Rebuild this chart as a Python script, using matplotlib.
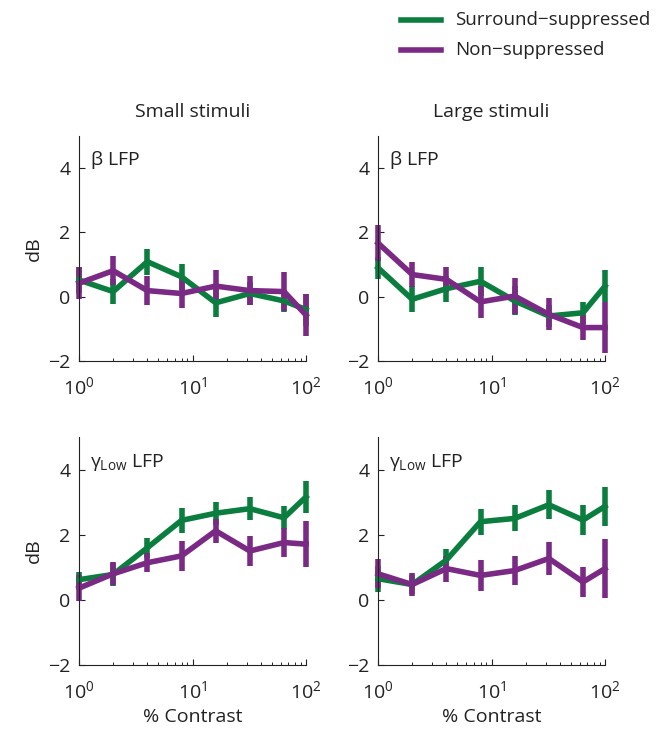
import numpy as np
import matplotlib
matplotlib.use('Agg')
import matplotlib.pyplot as plt
from matplotlib.lines import Line2D

plt.rcParams['font.family'] = ['Open Sans', 'DejaVu Sans']
plt.rcParams['mathtext.fontset'] = 'custom'
plt.rcParams['mathtext.rm'] = 'Open Sans'
plt.rcParams['mathtext.it'] = 'Open Sans'

# contrast levels (%)
contrast = [1, 2, 4, 8, 16, 32, 64, 100]

# beta LFP, small stimuli
beta_small_ss = [0.52, 0.16, 1.09, 0.62, -0.19, 0.10, -0.13, -0.40]
beta_small_ss_err = [0.40, 0.40, 0.40, 0.40, 0.45, 0.35, 0.35, 0.50]
beta_small_ns = [0.42, 0.81, 0.19, 0.10, 0.33, 0.19, 0.16, -0.57]
beta_small_ns_err = [0.50, 0.45, 0.45, 0.45, 0.50, 0.45, 0.60, 0.65]

# beta LFP, large stimuli
beta_large_ss = [0.90, -0.08, 0.25, 0.48, -0.13, -0.60, -0.50, 0.33]
beta_large_ss_err = [0.35, 0.40, 0.40, 0.45, 0.45, 0.35, 0.35, 0.50]
beta_large_ns = [1.67, 0.69, 0.54, -0.16, 0.02, -0.55, -0.96, -0.96]
beta_large_ns_err = [0.55, 0.40, 0.40, 0.50, 0.55, 0.50, 0.40, 0.80]

# low gamma LFP, small stimuli
gam_small_ss = [0.62, 0.78, 1.60, 2.44, 2.66, 2.80, 2.52, 3.16]
gam_small_ss_err = [0.25, 0.35, 0.30, 0.38, 0.35, 0.35, 0.35, 0.50]
gam_small_ns = [0.36, 0.80, 1.14, 1.35, 2.12, 1.50, 1.76, 1.71]
gam_small_ns_err = [0.40, 0.35, 0.30, 0.45, 0.37, 0.45, 0.45, 0.70]

# low gamma LFP, large stimuli
gam_large_ss = [0.65, 0.47, 1.22, 2.40, 2.50, 2.92, 2.45, 2.87]
gam_large_ss_err = [0.40, 0.30, 0.35, 0.40, 0.40, 0.45, 0.45, 0.60]
gam_large_ns = [0.80, 0.47, 0.96, 0.75, 0.90, 1.27, 0.55, 0.96]
gam_large_ns_err = [0.45, 0.35, 0.40, 0.48, 0.45, 0.50, 0.45, 0.90]

series_names = ['Surround\u2212suppressed', 'Non\u2212suppressed']

green = '#0b7e3f'
purple = '#7a2a84'
txt = '#222222'
lw = 4.0

W, H = 659, 742
fig = plt.figure(figsize=(W / 100, H / 100), dpi=100)

def px_axes(x0, y0, x1, y1):
    return fig.add_axes([x0 / W, 1 - y1 / H, (x1 - x0) / W, (y1 - y0) / H])

panels = [
    (px_axes(79, 136, 306, 361), beta_small_ss, beta_small_ss_err, beta_small_ns, beta_small_ns_err, r'$\beta$ LFP'),
    (px_axes(378, 136, 605, 361), beta_large_ss, beta_large_ss_err, beta_large_ns, beta_large_ns_err, r'$\beta$ LFP'),
    (px_axes(79, 437, 306, 665), gam_small_ss, gam_small_ss_err, gam_small_ns, gam_small_ns_err, r'$\gamma_{\mathrm{Low}}$ LFP'),
    (px_axes(378, 437, 605, 665), gam_large_ss, gam_large_ss_err, gam_large_ns, gam_large_ns_err, r'$\gamma_{\mathrm{Low}}$ LFP'),
]

for i, (ax, ss, sse, ns, nse, lab) in enumerate(panels):
    ax.errorbar(contrast, ss, yerr=sse, color=green, lw=lw, elinewidth=lw, capsize=0, clip_on=False)
    ax.errorbar(contrast, ns, yerr=nse, color=purple, lw=lw, elinewidth=lw, capsize=0, clip_on=False)
    ax.set_xscale('log')
    ax.set_xlim(1, 100)
    ax.set_ylim(-2, 5)
    ax.set_yticks([-2, 0, 2, 4])
    ax.spines['top'].set_visible(False)
    ax.spines['right'].set_visible(False)
    ax.spines['left'].set_color(txt)
    ax.spines['bottom'].set_color(txt)
    ax.tick_params(direction='in', labelsize=14, color=txt, labelcolor=txt, length=4)
    ax.tick_params(axis='y', pad=6)
    ax.tick_params(axis='x', pad=11)
    ax.tick_params(which='minor', direction='in', length=2.5)
    ax.text(0.05, 0.87, lab, transform=ax.transAxes, fontsize=14, color=txt)
    if i % 2 == 0:
        ax.set_ylabel('dB', fontsize=14, labelpad=4, color=txt)
    if i >= 2:
        ax.set_xlabel('% Contrast', fontsize=14, color=txt, labelpad=4)

panels[0][0].set_title('Small stimuli', fontsize=14, pad=14, color=txt)
panels[1][0].set_title('Large stimuli', fontsize=14, pad=14, color=txt)

# legend drawn by hand at the top right
for k, (name, col) in enumerate(zip(series_names, [green, purple])):
    yy = 1 - (20 + 30 * k) / H
    fig.add_artist(Line2D([401 / W, 441 / W], [yy, yy], color=col, lw=lw, transform=fig.transFigure))
    fig.text(455 / W, yy, name, fontsize=13.5, va='center', ha='left', color=txt)

fig.savefig('out.png', dpi=100)
